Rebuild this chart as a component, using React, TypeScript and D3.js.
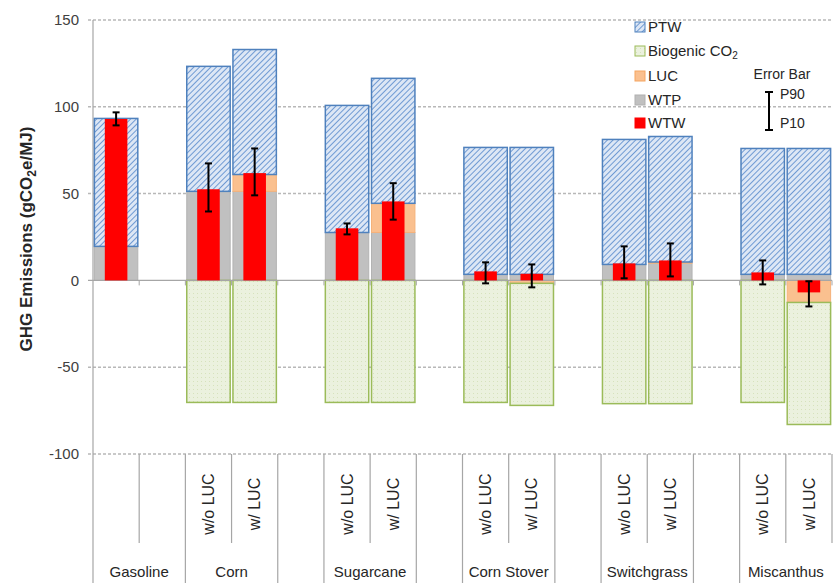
import * as d3 from "d3";

// fuel pathways in plot order (gasoline first, then the biofuels with / without land use change)
const fuelGroups = ["Gasoline", "Corn", "Sugarcane", "Corn Stover", "Switchgrass", "Miscanthus"];
const lucCases = ["w/o LUC", "w/ LUC"];

// one value per pathway: Gasoline, Corn w/o, Corn w/, Sugarcane w/o, Sugarcane w/, Stover w/o, Stover w/,
// Switchgrass w/o, Switchgrass w/, Miscanthus w/o, Miscanthus w/
const wtp = [19.6, 51.3, 51.3, 27.6, 27.6, 3.5, 3.5, 9.2, 9.9, 3.5, 3.5];
const luc = [0, 0, 9.7, 0, 16.8, 0, -1.7, 0, 0.7, 0, -12.7];
const ptw = [73.7, 72.0, 72.0, 73.2, 72.0, 73.1, 73.1, 72.0, 72.3, 72.5, 72.5];
const biogenic = [0, -70.3, -70.3, -70.3, -70.3, -70.3, -70.3, -71, -71, -70.3, -70.3];
const wtw = [93, 52.5, 61.8, 30, 45.5, 5.2, 3.8, 9.8, 11.5, 4.6, -6.9];
const p90 = [96.8, 67.4, 76, 32.8, 56, 10.4, 9.2, 19.6, 21.3, 11.5, -0.5];
const p10 = [89.3, 39.7, 49, 26.5, 35, -1.7, -4, 1.2, 2.3, -2.3, -15];

const yTicks = [150, 100, 50, 0, -50, -100];

const W = 836, H = 583;
const left = 93, right = 832, top = 20, bottom = 454;

const colors = {
  ptw: "#4f81bd",
  bio: "#9bbb59",
  luc: "#fac08f",
  wtp: "#c0c0c0",
  wtw: "#ff0000",
};

type Slot = { id: string; group: string | null; sub: string | null; idx: number };

// build the category slots, with an empty slot after gasoline and between biofuel groups
const slots: Slot[] = [];
let k = 0;
fuelGroups.forEach((g, i) => {
  if (i === 0) {
    slots.push({ id: g, group: g, sub: null, idx: k++ });
    slots.push({ id: g + "-pad", group: g, sub: null, idx: -1 });
  } else {
    lucCases.forEach((c) => slots.push({ id: `${g} ${c}`, group: g, sub: c, idx: k++ }));
    if (i < fuelGroups.length - 1) slots.push({ id: "gap" + i, group: null, sub: null, idx: -1 });
  }
});

export default function App() {
  const x = d3.scaleBand<string>().domain(slots.map((s) => s.id)).range([left, right]).paddingInner(0.06).paddingOuter(0.03);
  const y = d3.scaleLinear().domain([-100, 150]).range([bottom, top]);
  const bw = x.bandwidth();
  const step = x.step();
  const font = "'Liberation Sans', Arial, sans-serif";

  const bars = slots.filter((s) => s.idx >= 0);

  const rect = (x0: number, v0: number, v1: number, w: number, fill: string, stroke?: string, sw = 1) => (
    <rect
      x={x0}
      y={y(Math.max(v0, v1))}
      width={w}
      height={Math.abs(y(v0) - y(v1))}
      fill={fill}
      stroke={stroke || "none"}
      strokeWidth={sw}
    />
  );

  // boundaries between slots for the multi-level category axis
  const bounds = d3.range(1, slots.length + 1).map((i) => {
    const prev = slots[i - 1];
    const next = slots[i];
    const short = i === slots.length || (next && prev.group !== null && prev.group === next.group);
    return { x: Math.min(left + i * step, right), short };
  });

  const legendItems = [
    { label: "PTW", fill: "url(#hatchBlue)", stroke: colors.ptw },
    { label: "Biogenic CO", sub: "2", fill: "url(#dotGreen)", stroke: colors.bio },
    { label: "LUC", fill: colors.luc, stroke: "#f5a560" },
    { label: "WTP", fill: colors.wtp, stroke: "#b0b0b0" },
    { label: "WTW", fill: colors.wtw, stroke: colors.wtw },
  ];
  const legendY = [27, 51, 76, 100, 123];

  return (
    <svg width={W} height={H} style={{ position: "absolute", left: 0, top: 0, background: "#fff" }} fontFamily={font}>
      <defs>
        <pattern id="hatchBlue" width="4" height="4" patternUnits="userSpaceOnUse" patternTransform="rotate(45)">
          <rect width="4" height="4" fill="#dde7f5" />
          <line x1="0" y1="0" x2="0" y2="4" stroke="#6f9ad3" strokeWidth="2" />
        </pattern>
        <pattern id="dotGreen" width="4" height="4" patternUnits="userSpaceOnUse">
          <rect width="4" height="4" fill="#ebf1de" />
          <rect x="1" y="1" width="1" height="1" fill="#d6e2bc" />
        </pattern>
      </defs>

      {/* gridlines */}
      {yTicks.filter((t) => t !== 0).map((t) => (
        <line key={t} x1={88} x2={right} y1={y(t)} y2={y(t)} stroke="#b8b8b8" strokeWidth={1.5} strokeDasharray="3,2" />
      ))}

      {/* y axis */}
      <line x1={left} x2={left} y1={top} y2={H} stroke="#a6a6a6" strokeWidth={1.2} />
      {yTicks.map((t) => (
        <text key={t} x={79} y={y(t)} dy="0.35em" textAnchor="end" fontSize={15} fill="#404040">
          {t}
        </text>
      ))}
      <text transform={`translate(32,${(top + bottom) / 2 + 2}) rotate(-90)`} textAnchor="middle" fontSize={17} fontWeight="bold" fill="#262626">
        GHG Emissions (gCO<tspan fontSize={12} dy={4}>2</tspan><tspan dy={-4}>e/MJ)</tspan>
      </text>

      {/* stacked components */}
      {bars.map((s) => {
        const i = s.idx;
        const x0 = x(s.id)!;
        const lucPos = Math.max(luc[i], 0);
        const lucNeg = Math.min(luc[i], 0);
        const posTop = wtp[i] + lucPos;
        return (
          <g key={s.id}>
            {rect(x0, 0, wtp[i], bw, colors.wtp, "#b3b3b3", 1)}
            {lucPos > 0 && rect(x0, wtp[i], posTop, bw, colors.luc, "#f5b27a", 1)}
            {lucNeg < 0 && rect(x0, 0, lucNeg, bw, colors.luc, "#f5b27a", 1)}
            {biogenic[i] < 0 && rect(x0, lucNeg, lucNeg + biogenic[i], bw, "url(#dotGreen)", colors.bio, 1.5)}
            {rect(x0, posTop, posTop + ptw[i], bw, "url(#hatchBlue)", colors.ptw, 1.5)}
          </g>
        );
      })}

      {/* zero line */}
      <line x1={88} x2={right} y1={y(0)} y2={y(0)} stroke="#a6a6a6" strokeWidth={1.2} />
      {bounds.map((b, i) => (
        <line key={"t" + i} x1={b.x} x2={b.x} y1={y(0)} y2={y(0) + 5} stroke="#a6a6a6" strokeWidth={1} />
      ))}

      {/* WTW bars and error bars */}
      {bars.map((s) => {
        const i = s.idx;
        const cx = x(s.id)! + bw / 2;
        const rw = bw * 0.52;
        return (
          <g key={"w" + s.id}>
            {rect(cx - rw / 2, 0, wtw[i], rw, colors.wtw)}
            <line x1={cx} x2={cx} y1={y(p90[i])} y2={y(p10[i])} stroke="#000" strokeWidth={2} />
            <line x1={cx - 3.5} x2={cx + 3.5} y1={y(p90[i])} y2={y(p90[i])} stroke="#000" strokeWidth={2} />
            <line x1={cx - 3.5} x2={cx + 3.5} y1={y(p10[i])} y2={y(p10[i])} stroke="#000" strokeWidth={2} />
          </g>
        );
      })}

      {/* multi-level category axis */}
      {bounds.map((b, i) => (
        <line key={"b" + i} x1={b.x} x2={b.x} y1={bottom} y2={b.short ? 543 : H} stroke="#a6a6a6" strokeWidth={1.2} />
      ))}
      {bars.filter((s) => s.sub).map((s) => (
        <text
          key={"s" + s.id}
          transform={`translate(${x(s.id)! + bw / 2},${504}) rotate(-90)`}
          textAnchor="middle"
          dy="0.35em"
          fontSize={16}
          fill="#262626"
        >
          {s.sub}
        </text>
      ))}
      {fuelGroups.map((g) => {
        const gs = slots.filter((s) => s.group === g);
        const x0 = x(gs[0].id)! - (step - bw) / 2;
        const x1 = x(gs[gs.length - 1].id)! + bw + (step - bw) / 2;
        return (
          <text key={"g" + g} x={(x0 + x1) / 2} y={572} textAnchor="middle" dy="0.35em" fontSize={15} fill="#262626">
            {g}
          </text>
        );
      })}

      {/* legend */}
      {legendItems.map((it, i) => (
        <g key={it.label} transform={`translate(635,${legendY[i]})`}>
          <rect x={0} y={-5} width={10} height={10} fill={it.fill} stroke={it.stroke} strokeWidth={1} />
          <text x={13} dy="0.35em" fontSize={15} fill="#262626">
            {it.label}
            {it.sub && <tspan fontSize={10} dy={3}>{it.sub}</tspan>}
          </text>
        </g>
      ))}
      <text x={782} y={74} dy="0.35em" textAnchor="middle" fontSize={14} fill="#262626">Error Bar</text>
      <line x1={769} x2={769} y1={92} y2={130} stroke="#000" strokeWidth={2} />
      <line x1={765} x2={773} y1={92} y2={92} stroke="#000" strokeWidth={2} />
      <line x1={765} x2={773} y1={130} y2={130} stroke="#000" strokeWidth={2} />
      <text x={780} y={94} dy="0.35em" fontSize={14} fill="#262626">P90</text>
      <text x={780} y={123} dy="0.35em" fontSize={14} fill="#262626">P10</text>
    </svg>
  );
}
